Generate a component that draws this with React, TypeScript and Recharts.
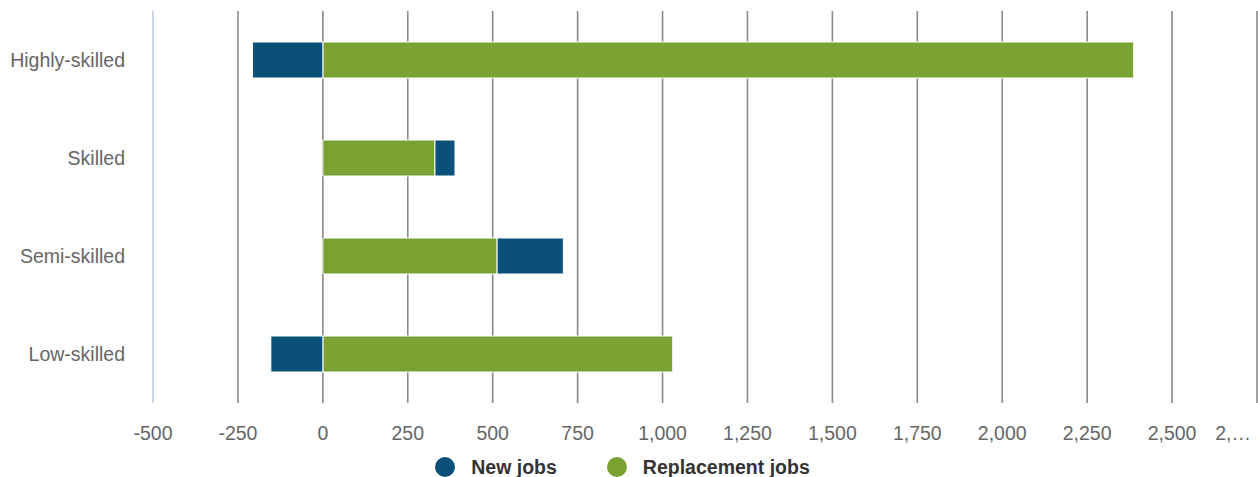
import React from 'react';
import { BarChart, Bar, XAxis, YAxis, CartesianGrid, Legend, ReferenceLine } from 'recharts';

const categories = ['Highly-skilled', 'Skilled', 'Semi-skilled', 'Low-skilled'];
const newJobs = [-207, 59, 195, -153];
const replacementJobs = [2387, 330, 513, 1030];
const xTicks = [-500, -250, 0, 250, 500, 750, 1000, 1250, 1500, 1750, 2000, 2250, 2500, 2750];

const BLUE = '#0b5079';
const GREEN = '#79a232';
const FONT = '"Liberation Sans", Arial, Helvetica, sans-serif';
const FS = 19.5;

const data = categories.map((c, i) => ({
  category: c,
  newJobs: newJobs[i],
  replacementJobs: replacementJobs[i],
}));

const XTick = (props: any) => {
  const { x, y, payload } = props;
  const v = payload.value as number;
  const last = v === xTicks[xTicks.length - 1];
  const label = last ? '2,…' : v.toLocaleString('en-US');
  return (
    <text
      x={last ? x - 6 : x}
      y={y}
      dy="0.71em"
      textAnchor={last ? 'end' : 'middle'}
      fill="#666666"
      fontSize={FS}
      fontFamily={FONT}
    >
      {label}
    </text>
  );
};

const legendItems = [
  { name: 'New jobs', color: BLUE },
  { name: 'Replacement jobs', color: GREEN },
];

const LegendContent = () => (
  <div
    style={{
      display: 'flex',
      justifyContent: 'center',
      alignItems: 'center',
      paddingTop: 10,
      paddingRight: 12,
      height: 20,
      fontFamily: FONT,
    }}
  >
    {legendItems.map((it, i) => (
      <div
        key={it.name}
        style={{ display: 'flex', alignItems: 'center', marginLeft: i === 0 ? 0 : 50 }}
      >
        <span
          style={{
            display: 'inline-block',
            width: 20,
            height: 20,
            borderRadius: 10,
            background: it.color,
            marginRight: 16,
          }}
        />
        <span style={{ fontWeight: 'bold', fontSize: FS, color: '#333333', lineHeight: '22px' }}>
          {it.name}
        </span>
      </div>
    ))}
  </div>
);

export default function App() {
  return (
    <div style={{ position: 'absolute', left: 0, top: 0, width: 1258, height: 477, background: '#fff' }}>
      <BarChart
        width={1258}
        height={477}
        data={data}
        layout="vertical"
        stackOffset="sign"
        barSize={36}
        margin={{ top: 11, right: 1, left: 0, bottom: 0 }}
      >
        <CartesianGrid horizontal={false} stroke="#8a8a8a" strokeWidth={1.6} />
        <XAxis
          type="number"
          domain={[-500, 2750]}
          ticks={xTicks}
          interval={0}
          axisLine={false}
          tickLine={false}
          tickSize={0}
          tickMargin={23}
          height={44}
          tick={<XTick />}
        />
        <YAxis
          type="category"
          dataKey="category"
          width={153}
          axisLine={false}
          tickLine={false}
          tickSize={0}
          tickMargin={28}
          tick={{ fill: '#666666', fontSize: FS, fontFamily: FONT }}
        />
        <ReferenceLine x={-500} stroke="#ccd6eb" strokeWidth={2} />
        <Legend verticalAlign="bottom" content={<LegendContent />} />
        <Bar dataKey="replacementJobs" name="Replacement jobs" stackId="a" fill={GREEN} stroke="#ffffff" strokeWidth={1} isAnimationActive={false} />
        <Bar dataKey="newJobs" name="New jobs" stackId="a" fill={BLUE} stroke="#ffffff" strokeWidth={1} isAnimationActive={false} />
      </BarChart>
    </div>
  );
}
